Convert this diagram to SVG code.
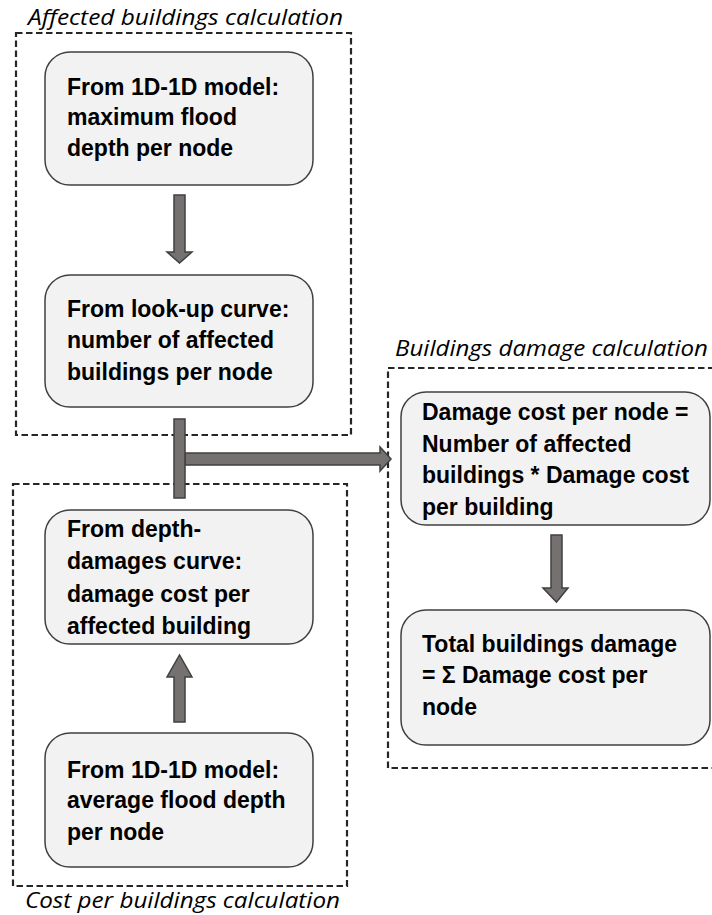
<svg xmlns="http://www.w3.org/2000/svg" width="712" height="915" viewBox="0 0 712 915">
<style>
.bg{fill:#ffffff}
.frame{fill:none;stroke:#262626;stroke-width:2.2;stroke-dasharray:6.5 3.5}
.box{fill:#f2f2f2;stroke:#404040;stroke-width:1.5}
.t{font-family:"Liberation Sans",Arial,sans-serif;font-weight:bold;font-size:23px;fill:#000}
.cap{font-family:"Open Sans","Liberation Sans",sans-serif;font-style:italic;font-size:21.5px;fill:#000}
.arr{fill:#767171;stroke:#404040;stroke-width:1.5;stroke-linejoin:miter}
</style>
<rect class="bg" x="0" y="0" width="712" height="915"/>
<g id="frames">
<rect class="frame" x="16" y="33" width="335" height="402"/>
<rect class="frame" x="13" y="484" width="334" height="402"/>
<rect class="frame" x="388" y="368" width="340" height="400"/>
<text class="cap" x="28" y="25" textLength="315" lengthAdjust="spacingAndGlyphs">Affected buildings calculation</text>
<text class="cap" x="25" y="908" textLength="315" lengthAdjust="spacingAndGlyphs">Cost per buildings calculation</text>
<text class="cap" x="395" y="356" textLength="313" lengthAdjust="spacingAndGlyphs">Buildings damage calculation</text>
</g>
<g id="connectors">
<polygon class="arr" points="174,195 185,195 185,252 192,252 179.5,263 167,252 174,252"/>
<polygon class="arr" points="174,722 185,722 185,677 192,677 179.5,655 167,677 174,677"/>
<polygon class="arr" points="185,453 380,453 380,447 391,459 380,471 380,465 185,465"/>
<rect class="arr" x="174" y="419" width="11" height="79"/>
<polygon class="arr" points="551,535 562,535 562,588 568,588 556.5,602 543,588 551,588"/>
</g>
<g id="n1">
<rect class="box" x="45" y="52" width="268" height="133" rx="25"/>
<text class="t" x="67" y="95">From 1D-1D model:</text>
<text class="t" x="67" y="125">maximum flood</text>
<text class="t" x="67" y="156">depth per node</text>
</g>
<g id="n2">
<rect class="box" x="45" y="275" width="268" height="132" rx="25"/>
<text class="t" x="67" y="317">From look-up curve:</text>
<text class="t" x="67" y="348">number of affected</text>
<text class="t" x="67" y="380">buildings per node</text>
</g>
<g id="n3">
<rect class="box" x="45" y="510" width="268" height="134" rx="25"/>
<text class="t" x="67" y="537">From depth-</text>
<text class="t" x="67" y="569">damages curve:</text>
<text class="t" x="67" y="602">damage cost per</text>
<text class="t" x="67" y="634">affected building</text>
</g>
<g id="n4">
<rect class="box" x="45" y="733" width="268" height="134" rx="25"/>
<text class="t" x="67" y="778">From 1D-1D model:</text>
<text class="t" x="67" y="808">average flood depth</text>
<text class="t" x="67" y="840">per node</text>
</g>
<g id="n5">
<rect class="box" x="401" y="392" width="309" height="133" rx="25"/>
<text class="t" x="422" y="420">Damage cost per node =</text>
<text class="t" x="422" y="452">Number of affected</text>
<text class="t" x="422" y="483">buildings * Damage cost</text>
<text class="t" x="422" y="515">per building</text>
</g>
<g id="n6">
<rect class="box" x="401" y="610" width="309" height="135" rx="25"/>
<text class="t" x="422" y="652">Total buildings damage</text>
<text class="t" x="422" y="683">= Σ Damage cost per</text>
<text class="t" x="422" y="715">node</text>
</g>
</svg>
